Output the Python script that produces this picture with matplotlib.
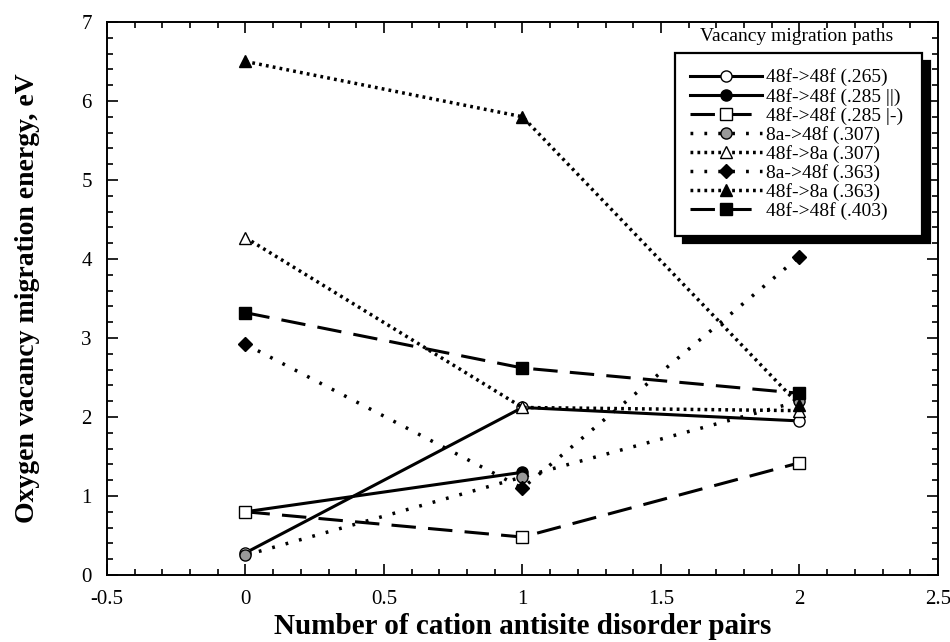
import matplotlib
matplotlib.use('Agg')
import matplotlib.pyplot as plt
from matplotlib.ticker import MultipleLocator

plt.rcParams['font.family'] = ['Liberation Serif', 'DejaVu Serif']

pairs = [0, 1, 2]
labels = ['48f->48f (.265)', '48f->48f (.285 ||)', '48f->48f (.285 |-)', '8a->48f (.307)',
          '48f->8a (.307)', '8a->48f (.363)', '48f->8a (.363)', '48f->48f (.403)']
e_265 = [0.28, 2.12, 1.95]
e_285a = [0.80, 1.30]
e_285b = [0.80, 0.48, 1.42]
e_307a = [0.25, 1.24, 2.20]
e_307b = [4.27, 2.12, 2.08]
e_363a = [2.92, 1.10, 4.03]
e_363b = [6.50, 5.80, 2.15]
e_403 = [3.32, 2.62, 2.30]

fig = plt.figure(figsize=(9.5, 6.42), dpi=100)
ax = fig.add_axes([0.1126, 0.1044, 0.8747, 0.8614])

sparse = (0, (0.8, 3.2))
dense = (0, (0.8, 1.2))
dash = (0, (8, 4))
ms = 8
ax.plot(pairs, e_265, '-', color='k', lw=2.2, marker='o', ms=ms, mfc='white', mec='k', label=labels[0])
ax.plot(pairs[:2], e_285a, '-', color='k', lw=2.2, marker='o', ms=ms, mfc='k', label=labels[1])
ax.plot(pairs, e_285b, ls=dash, color='k', lw=2.2, marker='s', ms=ms, mfc='white', mec='k', label=labels[2])
ax.plot(pairs, e_307a, ls=sparse, color='k', lw=2.5, marker='o', ms=ms, mfc='0.6', mec='k', label=labels[3])
ax.plot(pairs, e_307b, ls=dense, color='k', lw=2.5, marker='^', ms=ms, mfc='white', mec='k', label=labels[4])
ax.plot(pairs, e_363a, ls=sparse, color='k', lw=2.5, marker='D', ms=ms - 1, mfc='k', label=labels[5])
ax.plot(pairs, e_363b, ls=dense, color='k', lw=2.5, marker='^', ms=ms, mfc='k', label=labels[6])
ax.plot(pairs, e_403, ls=dash, color='k', lw=2.2, marker='s', ms=ms, mfc='k', label=labels[7])

ax.set_xlim(-0.5, 2.5)
ax.set_ylim(0, 7)
ax.xaxis.set_minor_locator(MultipleLocator(0.1))
ax.yaxis.set_major_locator(MultipleLocator(1))
ax.yaxis.set_minor_locator(MultipleLocator(0.2))
ax.set_xticks([-0.5, 0, 0.5, 1, 1.5, 2, 2.5])
ax.set_xticklabels(['-0.5', '0', '0.5', '1', '1.5', '2', '2.5'])
ax.tick_params(which='both', direction='in', top=True, right=True, labelsize=15, pad=11)
ax.tick_params(which='major', length=8, width=1.2)
ax.tick_params(which='minor', length=4, width=1.2)
for s in ax.spines.values():
    s.set_linewidth(1.4)

ax.set_xlabel('Number of cation antisite disorder pairs', fontsize=21, fontweight='bold', labelpad=3)
ax.set_ylabel('Oxygen vacancy migration energy, eV', fontsize=20, fontweight='bold', labelpad=30)

ax.text(0.83, 0.973, 'Vacancy migration paths', transform=ax.transAxes, ha='center', va='center', fontsize=14)
leg = ax.legend(loc='upper left', bbox_to_anchor=(0.6835, 0.618, 0.2975, 0.326), mode='expand',
                borderaxespad=0, fontsize=14, handlelength=3.7, labelspacing=0.06,
                handletextpad=0.2, borderpad=0.8, fancybox=False, framealpha=1, edgecolor='k',
                shadow={'color': 'k', 'alpha': 1, 'ox': 5.5, 'oy': -5.5})
leg.get_frame().set_linewidth(1.6)

fig.savefig('out.png', dpi=100)
